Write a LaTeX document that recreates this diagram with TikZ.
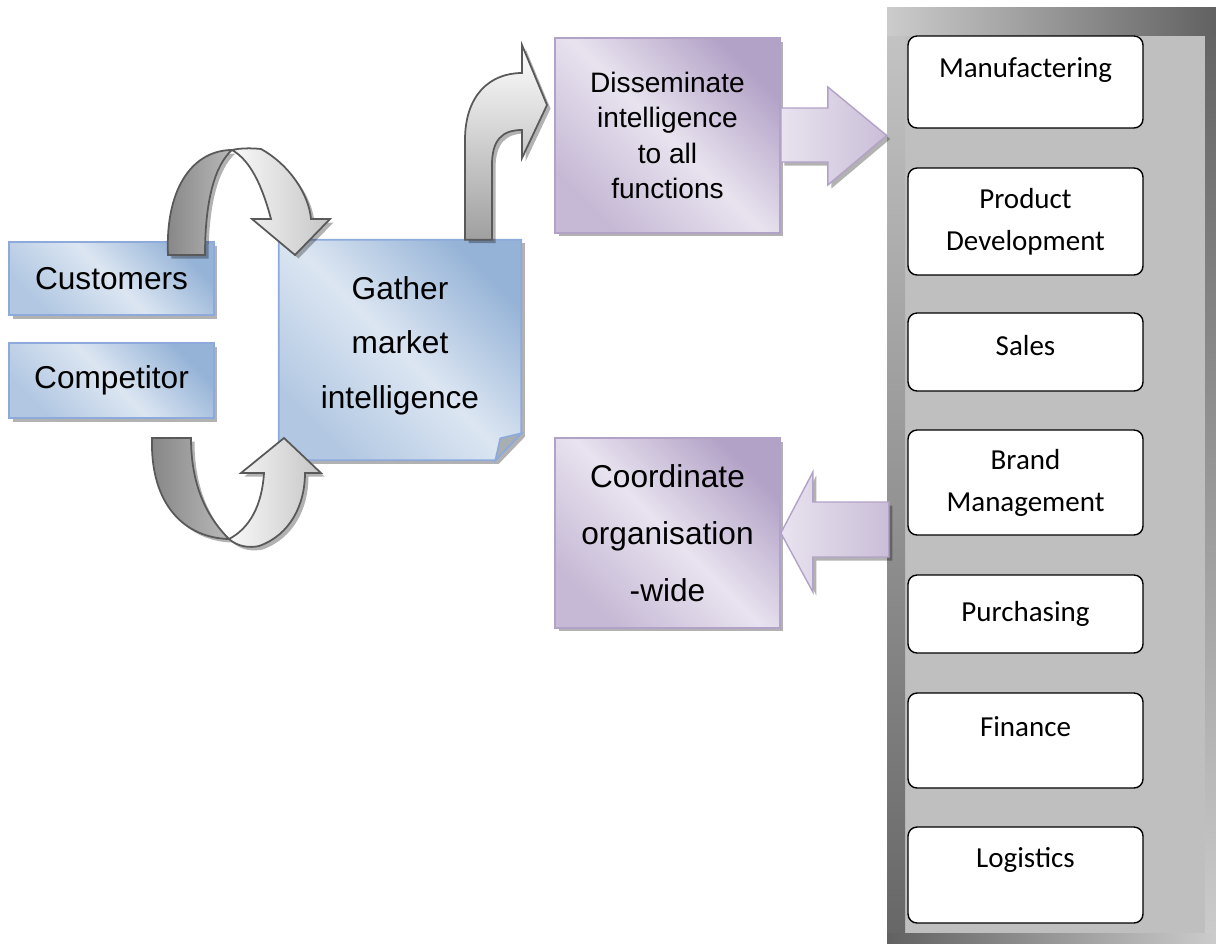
\documentclass[tikz,border=0pt]{standalone}
\usepackage{fontspec}
\setmainfont{Liberation Sans}
\newfontfamily\calibri{Carlito}
\usetikzlibrary{calc,shadows,backgrounds}

\definecolor{bluelt}{HTML}{DCE6F2}
\definecolor{bluedk}{HTML}{95B3D7}
\definecolor{blueln}{HTML}{8EAADB}
\definecolor{purplt}{HTML}{E8E3EF}
\definecolor{purpdk}{HTML}{B3A2C7}
\definecolor{arrln}{HTML}{595959}
\definecolor{panelgray}{HTML}{BFBFBF}

\begin{document}
\begin{tikzpicture}[
    x=0.02cm, y=-0.02cm,
    shadowed/.style={drop shadow={shadow xshift=0.07cm, shadow yshift=-0.07cm, fill=black, opacity=0.3}},
    bluebox/.style={shadowed, draw=blueln, line width=1pt, top color=bluedk, bottom color=bluedk!60!bluelt, middle color=bluelt, shading angle=-45},
    purpbox/.style={shadowed, draw=purpdk, line width=1pt, top color=purpdk, bottom color=purpdk!65!purplt, middle color=purplt, shading angle=-45},
    src/.style={bluebox, minimum width=4.1cm, font=\fontsize{18}{22}\selectfont},
    task/.style={purpbox, minimum width=4.5cm, align=center},
    fn/.style={draw=black, line width=0.8pt, fill=white, rounded corners=0.18cm, minimum width=4.7cm, align=center, font=\calibri\fontsize{16.5}{24}\selectfont},
    darkband/.style={shadowed, draw=arrln, line width=1pt, left color=gray!95, right color=gray!55},
    lightband/.style={shadowed, draw=arrln, line width=1pt, left color=white!95!gray, right color=gray!45},
    bendarr/.style={shadowed, draw=arrln, line width=1pt, top color=white, bottom color=gray!75},
    purparr/.style={shadowed, draw=purpdk, line width=0.8pt, left color=purplt, right color=purpdk!70!white}
]
    \useasboundingbox (0,0) rectangle (1216,944);

    % --- Functions panel ---
    \fill[panelgray] (887,7) rectangle (1216,943);
    \shade[top color=gray!45, bottom color=gray!120] (887,7) rectangle (905,943);
    \shade[top color=black!62, bottom color=gray!40] (1205,7) rectangle (1216,943);
    \shade[left color=gray!40, right color=black!62] (887,7) rectangle (1216,35);
    \shade[left color=black!62, right color=gray!40] (887,933) rectangle (1216,943);
    \node[minimum width=6.58cm, minimum height=18.72cm] (panel) at (1051.5,475) {};

    \node[fn, minimum height=1.84cm, text depth=17pt] (f1) at (1025.5,82) {Manufactering};
    \node[fn, minimum height=2.14cm] (f2) at (1025.5,221.5) {Product\\Development};
    \node[fn, minimum height=1.56cm, text depth=8pt] (f3) at (1025.5,352) {Sales};
    \node[fn, minimum height=2.1cm] (f4) at (1025.5,482.5) {Brand\\Management};
    \node[fn, minimum height=1.56cm] (f5) at (1025.5,614) {Purchasing};
    \node[fn, minimum height=1.9cm, text depth=16pt] (f6) at (1025.5,740.5) {Finance};
    \node[fn, minimum height=1.92cm, text depth=20pt] (f7) at (1025.5,875) {Logistics};

    % --- Sources ---
    \node[src, minimum height=1.46cm] (cust) at (111.5,278.5) {Customers};
    \node[src, minimum height=1.5cm] (comp) at (111.5,380.5) {Competitor};

    % --- Gather (sheet with folded corner) ---
    \node[minimum width=4.84cm, minimum height=4.4cm, align=center, text depth=9pt,
          font=\fontsize{18}{31}\selectfont] (gather) at (400,350) {Gather\\market\\intelligence};
    \begin{scope}[on background layer]
        \path[bluebox] (gather.north west) -- (gather.north east) -- ($(gather.south east)+(0,-27)$)
            -- ($(gather.south east)+(-26,0)$) -- (gather.south west) -- cycle;
        \filldraw[draw=blueln, line width=1pt, fill=gray!55!bluelt] ($(gather.south east)+(0,-27)$)
            -- ($(gather.south east)+(-21,-22)$) -- ($(gather.south east)+(-26,0)$) -- cycle;
    \end{scope}

    % --- Purple tasks ---
    \node[task, minimum height=3.9cm, font=\fontsize{16}{20}\selectfont] (dissem) at (667.5,135.5)
        {Disseminate\\intelligence\\to all\\functions};
    \node[task, minimum height=3.8cm, text depth=0pt, font=\fontsize{18}{32.4}\selectfont] (coord) at (667.5,533)
        {Coordinate\\organisation\\-wide};

    % --- Loop arrows round the sources ---
    \path[darkband] (168,255) .. controls (165,185) and (195,150) .. (232,150)
        .. controls (215,165) and (205,200) .. (205,255) -- cycle;
    \path[lightband] (232,150) .. controls (240,148) and (252,148) .. (261,149)
        .. controls (290,165) and (309,195) .. (311,219) -- (330,219) -- (295,255) -- (252,219) -- (271,219)
        .. controls (262,185) and (250,160) .. (232,150) -- cycle;
    \path[darkband] (152,438) .. controls (150,505) and (185,538) .. (229,539)
        .. controls (210,520) and (191,490) .. (191,438) -- cycle;
    \path[lightband] (229,539) .. controls (238,547) and (250,548) .. (259,546)
        .. controls (290,535) and (305,505) .. (305,473) -- (321,473) -- (284,438) -- (241,473) -- (264,473)
        .. controls (262,505) and (250,528) .. (229,539) -- cycle;

    % --- Bent arrow up to the purple task ---
    \path[bendarr] ($(gather.north)+(65,0)$) -- (465,140) .. controls (465,95) and (490,73) .. (522,73)
        -- (522,45) -- (547,105) -- (522,158) -- (522,130) .. controls (502,130) and (492,140) .. (492,165)
        -- ($(gather.north)+(92,0)$) -- cycle;

    % --- Block arrows to and from the panel ---
    \path[purparr] ($(dissem.east)+(0,-27.5)$) -- ++(47,0) -- ++(0,-21) -- (panel.west |- dissem.east)
        -- ($(dissem.east)+(47,49.5)$) -- ++(0,-23) -- ($(dissem.east)+(0,26.5)$) -- cycle;
    \path[purparr] (coord.east) -- ++(32,-61) -- ++(0,30) -- ($(coord.east)+(108,-31)$)
        -- ++(0,55) -- ($(coord.east)+(32,24)$) -- ++(0,35) -- cycle;

\end{tikzpicture}
\end{document}
